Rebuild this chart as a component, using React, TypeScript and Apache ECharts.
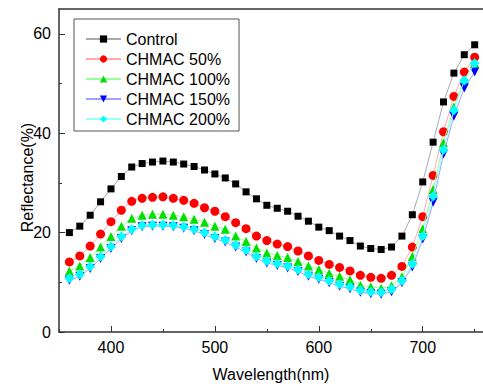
import React, { useEffect, useRef } from "react";
import * as echarts from "echarts";

const wavelengths = [360,370,380,390,400,410,420,430,440,450,460,470,480,490,500,510,520,530,540,550,560,570,580,590,600,610,620,630,640,650,660,670,680,690,700,710,720,730,740,750];

const control = [20.0,21.3,23.5,26.2,28.8,31.3,33.2,33.9,34.2,34.4,34.2,33.8,33.3,32.6,31.8,31.0,29.8,28.2,26.8,25.5,24.9,24.3,23.3,22.3,21.1,20.4,19.3,18.4,17.3,16.8,16.6,17.1,19.3,23.6,30.2,38.2,46.3,52.1,55.8,57.8];
const chmac50 = [14.1,15.3,17.3,19.7,22.2,24.5,26.3,26.9,27.1,27.2,26.9,26.5,25.9,25.0,24.3,23.2,22.0,20.8,19.3,18.4,17.7,17.2,16.3,15.3,14.4,13.6,13.0,12.3,11.4,11.0,10.8,11.4,13.2,17.1,23.2,31.5,40.3,47.4,52.3,55.3];
const chmac100 = [12.3,13.3,15.0,17.1,19.2,21.3,22.9,23.5,23.7,23.7,23.5,23.2,22.7,22.1,21.3,20.7,19.3,18.2,16.9,15.9,15.4,15.0,14.2,13.3,12.6,11.8,11.2,10.5,9.4,9.1,8.8,9.3,11.1,15.2,20.8,28.7,38.1,45.3,50.8,54.1];
const chmac150 = [10.4,11.2,12.8,14.8,16.8,18.8,20.4,21.2,21.3,21.3,21.2,20.9,20.4,19.6,18.8,18.1,17.1,16.1,14.8,13.9,13.4,12.9,12.2,11.2,10.6,9.9,9.2,8.7,8.0,7.7,7.6,8.1,9.9,13.1,18.7,26.1,35.8,43.4,49.1,52.3];
const chmac200 = [10.8,11.6,13.2,15.2,17.2,19.2,20.7,21.5,21.6,21.6,21.5,21.2,20.7,20.0,19.2,18.5,17.5,16.5,15.2,14.3,13.8,13.3,12.6,11.6,11.0,10.3,9.6,9.1,8.4,8.1,8.0,8.6,10.3,13.7,19.3,27.3,36.7,44.6,50.6,54.1];

const seriesNames = ["Control", "CHMAC 50%", "CHMAC 100%", "CHMAC 150%", "CHMAC 200%"];
const xMajorTicks = [400, 500, 600, 700];
const xMinorTicks = [350, 450, 550, 650, 750];
const yMajorTicks = [0, 20, 40, 60];
const yMinorTicks = [10, 30, 50];

const FONT = "Liberation Sans, Arial, sans-serif";
const AXIS_COLOR = "#333";

export default function App() {
  const ref = useRef<HTMLDivElement>(null);
  useEffect(() => {
    if (!ref.current) return;
    const chart = echarts.init(ref.current, undefined, { renderer: "svg" });
    const values = [control, chmac50, chmac100, chmac150, chmac200];
    const colors = ["#000000", "#ff0000", "#00e000", "#0000ff", "#00ffff"];
    const lineColors = ["#aaaaaa", "#ffaaaa", "#99ff99", "#a0a0ff", "#99ffff"];
    const symbols = ["rect", "circle", "triangle", "triangle", "diamond"];
    const sizes = [7, 9, 9, 9, 10];
    const rotates = [0, 0, 0, 180, 0];
    const xMin = 350, xMax = 758, yMin = 0, yMax = 65;
    chart.setOption({
      animation: false,
      textStyle: { fontFamily: FONT },
      grid: { left: 59, top: 9, right: 0, bottom: 54 },
      legend: {
        orient: "vertical",
        left: 74,
        top: 19,
        padding: [12, 9, 4, 11],
        itemWidth: 35,
        itemHeight: 9,
        itemGap: 4,
        borderColor: "#555",
        borderWidth: 1,
        textStyle: { fontFamily: FONT, fontSize: 16, color: "#000", lineHeight: 16 },
        data: seriesNames,
      },
      xAxis: [
        {
          type: "value", position: "bottom", min: xMin, max: xMax,
          name: "Wavelength(nm)", nameLocation: "middle", nameGap: 34, nameMoveOverlap: false,
          nameTextStyle: { fontFamily: FONT, fontSize: 16, color: "#000" },
          axisLine: { show: true, lineStyle: { color: AXIS_COLOR, width: 1.5 } },
          axisTick: { show: true, inside: true, length: 6, customValues: xMajorTicks, lineStyle: { color: AXIS_COLOR } },
          axisLabel: { show: true, customValues: xMajorTicks, margin: 7, fontFamily: FONT, fontSize: 16, color: "#000" },
          splitLine: { show: false },
        },
        {
          type: "value", position: "bottom", min: xMin, max: xMax,
          axisLine: { show: false },
          axisTick: { show: true, inside: true, length: 3, customValues: xMinorTicks, lineStyle: { color: AXIS_COLOR } },
          axisLabel: { show: false },
          splitLine: { show: false },
        },
        {
          type: "value", position: "top", min: xMin, max: xMax,
          axisLine: { show: true, lineStyle: { color: AXIS_COLOR, width: 1.5 } },
          axisTick: { show: false },
          axisLabel: { show: false },
          splitLine: { show: false },
        },
      ],
      yAxis: [
        {
          type: "value", position: "left", min: yMin, max: yMax,
          name: "Reflectance(%)", nameLocation: "middle", nameGap: 24, nameMoveOverlap: false,
          nameTextStyle: { fontFamily: FONT, fontSize: 16, color: "#000", padding: [0, 14, 0, 0] },
          axisLine: { show: true, lineStyle: { color: AXIS_COLOR, width: 1.5 } },
          axisTick: { show: true, inside: true, length: 6, customValues: yMajorTicks, lineStyle: { color: AXIS_COLOR } },
          axisLabel: { show: true, customValues: yMajorTicks, margin: 8, fontFamily: FONT, fontSize: 16, color: "#000" },
          splitLine: { show: false },
        },
        {
          type: "value", position: "left", min: yMin, max: yMax,
          axisLine: { show: false },
          axisTick: { show: true, inside: true, length: 3, customValues: yMinorTicks, lineStyle: { color: AXIS_COLOR } },
          axisLabel: { show: false },
          splitLine: { show: false },
        },
      ],
      series: seriesNames.map((name, i) => ({
        name,
        type: "line",
        xAxisIndex: 0,
        yAxisIndex: 0,
        data: wavelengths.map((w, j) => [w, values[i][j]]),
        symbol: symbols[i],
        symbolSize: sizes[i],
        symbolRotate: rotates[i],
        showSymbol: true,
        itemStyle: { color: colors[i], borderWidth: 0 },
        lineStyle: { color: lineColors[i], width: 1 },
        z: 2 + i,
      })),
    });
    return () => chart.dispose();
  }, []);
  return <div ref={ref} style={{ position: "fixed", left: 0, top: 0, width: 483, height: 387, background: "#fff" }} />;
}
